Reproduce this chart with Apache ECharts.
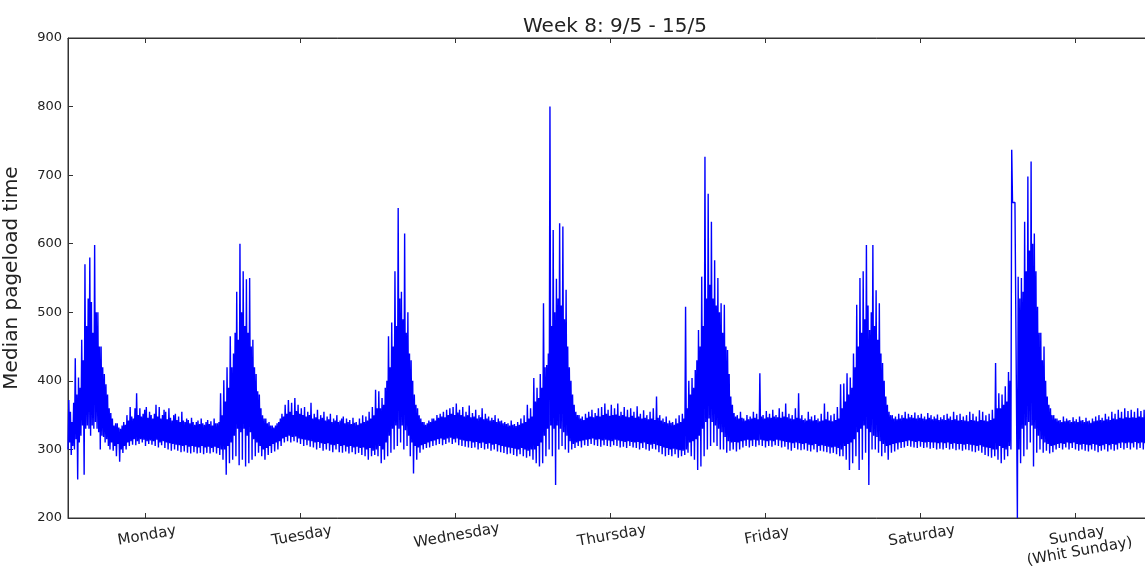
<!DOCTYPE html>
<html>
<head>
<meta charset="utf-8">
<script src="https://cdn.jsdelivr.net/npm/echarts@6/dist/echarts.min.js"></script>
<style>
  html, body { margin: 0; padding: 0; background: #fff; }
  #chart { width: 1145px; height: 574px; }
</style>
</head>
<body>
<div id="chart"></div>
<script>
// Median page load time, week 8 (9/5 - 15/5): one high/low pair per quarter hour, 96 per day.
const titleText = 'Week 8: 9/5 - 15/5';
const yAxisName = 'Median pageload time';
const dayLabels = ['Monday', 'Tuesday', 'Wednesday', 'Thursday', 'Friday', 'Saturday', 'Sunday\n(Whit Sunday)'];

const monHigh = [
  372,355,340,368,433,380,405,390,460,430,570,480,520,580,515,470,598,500,500,450,450,420,410,395,
  380,360,353,345,335,338,338,332,330,335,340,336,350,342,362,348,345,360,382,350,360,348,352,358,
  362,346,355,350,345,352,365,348,362,345,350,358,355,344,360,346,342,350,352,343,348,340,355,342,
  340,345,343,338,346,340,336,340,342,337,345,338,336,340,343,337,341,335,345,338,338,340,382,350];
const monLow = [
  300,310,292,305,300,315,256,310,320,335,263,330,335,330,320,335,330,340,330,325,300,320,318,310,
  315,305,300,310,298,305,290,308,282,300,295,305,300,310,305,312,307,315,306,312,308,315,310,314,
  305,312,308,313,307,312,305,314,303,310,306,312,302,310,300,309,298,308,300,307,298,306,296,305,
  297,306,295,304,294,305,296,304,294,303,295,305,293,303,295,304,294,302,296,304,294,302,292,300];

const tueHigh = [
  401,370,420,390,465,420,440,470,530,460,600,500,560,480,548,470,550,450,460,420,410,385,380,360,
  350,345,345,338,340,335,335,332,335,338,340,345,352,348,365,352,372,355,368,350,375,356,365,352,
  360,350,362,348,355,350,368,345,352,347,358,344,350,346,355,342,348,344,352,340,345,342,350,340,
  342,345,348,338,345,340,343,337,346,339,340,336,345,338,350,340,348,342,355,345,362,350,387,360];
const tueLow = [
  285,300,263,305,280,310,285,320,290,330,277,325,285,330,275,320,280,325,285,315,290,310,295,305,
  290,300,285,302,292,305,295,308,297,310,300,312,305,316,310,318,312,320,310,318,312,319,310,316,
  308,315,305,314,306,313,304,312,303,310,300,311,302,309,298,308,300,309,298,307,296,306,300,308,
  296,305,295,306,297,304,294,305,296,303,293,304,295,302,292,303,290,300,285,302,290,298,292,300];

const wedHigh = [
  385,360,375,365,390,400,465,420,485,450,560,480,652,520,530,490,615,470,500,440,430,400,380,365,
  360,350,345,340,340,336,338,342,340,345,345,342,350,346,352,348,355,347,358,350,360,352,362,350,
  367,354,358,350,362,348,355,350,364,347,353,348,358,345,350,347,360,344,352,345,348,342,346,343,
  350,340,345,341,342,338,340,337,338,335,342,336,337,334,340,336,345,338,350,340,365,345,360,348];
const wedLow = [
  290,305,280,300,285,310,290,320,295,330,300,335,305,330,310,335,300,328,305,320,290,310,265,305,
  285,303,295,306,300,308,302,310,303,312,305,313,306,315,308,316,306,314,308,316,310,317,308,315,
  310,316,306,314,305,313,304,312,303,312,302,310,303,311,300,309,302,310,300,308,301,309,298,307,
  300,308,297,306,296,305,295,304,293,303,294,302,292,301,290,300,293,302,290,300,288,298,290,300];

const thuHigh = [
  404,370,390,375,410,390,513,420,423,440,800,480,620,500,549,520,630,510,625,490,533,450,420,400,
  380,365,355,350,350,345,348,343,352,346,355,348,358,347,353,349,360,348,362,350,367,352,358,349,
  365,350,360,351,367,349,355,350,362,348,358,347,360,349,355,346,363,348,352,345,357,346,350,344,
  355,345,360,343,377,346,350,342,345,340,348,338,342,339,340,336,345,338,350,340,352,345,508,360];
const thuLow = [
  285,300,280,305,275,310,280,320,290,330,300,335,290,330,248,335,300,330,305,325,300,320,295,312,
  300,308,302,310,305,312,303,313,306,314,305,315,308,316,306,314,305,315,304,313,306,314,305,313,
  304,312,306,314,305,313,303,312,304,311,302,312,305,311,303,310,302,311,300,309,302,310,300,308,
  298,307,301,308,300,306,296,305,293,303,290,302,292,300,290,301,293,300,288,299,290,298,292,300];

const friHigh = [
  400,380,404,390,416,430,474,450,552,480,727,520,673,540,632,520,576,510,550,500,513,470,511,450,
  445,410,377,365,353,348,350,345,355,346,345,342,350,344,348,345,355,346,352,344,411,348,350,345,
  356,347,352,346,358,348,350,347,360,346,355,348,367,347,352,345,350,344,360,346,382,345,350,343,
  345,342,355,344,348,342,350,343,345,341,352,342,367,344,355,342,350,341,352,343,362,345,395,360];
const friLow = [
  295,310,290,312,285,315,270,320,275,330,290,340,300,345,305,340,310,335,305,330,300,325,300,318,
  295,312,298,310,300,311,297,310,300,312,303,313,305,314,303,313,305,314,304,313,306,314,305,313,
  303,312,305,313,304,312,306,314,305,313,303,312,304,311,300,310,298,309,302,310,300,309,299,308,
  300,309,298,307,297,306,300,308,296,305,298,306,297,305,296,304,294,303,295,304,293,302,290,300];

const satHigh = [
  396,370,411,380,405,390,440,420,511,450,550,470,560,490,598,510,474,500,598,480,532,460,513,440,
  426,400,377,365,355,350,350,345,348,344,352,345,350,346,355,345,352,347,350,346,354,345,350,346,
  352,345,348,344,353,346,350,344,348,345,351,343,347,344,350,343,352,345,348,343,355,344,350,342,
  352,343,348,342,350,341,355,343,352,342,348,341,357,343,355,342,350,341,352,343,358,345,426,360];
const satLow = [
  290,305,285,308,270,310,280,315,290,325,270,330,285,335,295,330,248,325,300,320,300,318,295,312,
  290,308,295,305,285,306,295,308,297,309,300,310,302,311,303,312,305,313,304,312,303,311,302,312,
  304,311,302,310,303,311,301,310,302,310,300,309,301,310,300,309,302,310,300,308,301,309,299,308,
  300,308,298,307,300,308,299,307,297,306,296,305,298,306,295,304,292,303,290,302,288,300,290,300];

const sunHigh = [
  382,360,380,365,392,370,413,400,737,660,660,660,552,520,550,530,632,560,698,590,720,600,615,560,
  508,470,470,430,450,400,377,365,360,350,350,345,345,342,343,340,348,341,345,342,343,340,347,341,
  344,340,348,342,343,340,346,341,342,339,345,341,348,342,350,343,346,342,352,344,348,343,355,345,
  352,344,358,346,355,345,360,347,356,346,358,347,355,346,360,348,356,347,358,348,355,347,357,348];
const sunLow = [
  285,305,280,302,285,300,290,305,300,660,660,660,200,300,280,330,290,335,300,340,310,335,275,330,
  295,320,300,315,295,310,298,308,294,305,296,306,300,308,302,309,300,308,303,310,300,309,302,310,
  300,308,298,307,300,308,298,307,297,306,300,308,298,307,296,305,298,306,300,308,297,306,300,308,
  298,307,300,309,302,310,300,309,302,310,300,309,303,311,300,309,302,310,300,309,302,310,300,309];

const dayHighs = [monHigh, tueHigh, wedHigh, thuHigh, friHigh, satHigh, sunHigh];
const dayLows  = [monLow, tueLow, wedLow, thuLow, friLow, satLow, sunLow];

// Hours since Monday 00:00; each quarter-hour slot draws its low, then its high.
const points = [];
dayHighs.forEach((highs, d) => {
  const lows = dayLows[d];
  highs.forEach((hi, q) => {
    const t = d * 24 + q * 0.25;
    points.push([t, lows[q]]);
    points.push([t + 0.125, hi]);
  });
});

const labelTicks = dayLabels.map((_, i) => i * 24 + 12);
const textColor = '#222';
const frameColor = '#333';
const fontFamily = '"DejaVu Sans", sans-serif';

const chart = echarts.init(document.getElementById('chart'), null, { renderer: 'canvas' });
chart.setOption({
  animation: false,
  backgroundColor: '#ffffff',
  title: {
    text: titleText,
    left: 610,
    top: 12,
    textAlign: 'center',
    textStyle: { fontFamily, fontSize: 20, fontWeight: 'normal', color: textColor }
  },
  grid: {
    left: 68, top: 38, right: -8, bottom: 56,
    containLabel: false,
    outerBoundsMode: 'none',
    show: true, borderColor: frameColor, borderWidth: 1, backgroundColor: 'transparent'
  },
  xAxis: [
    {
      type: 'value', min: 0, max: 168, position: 'bottom',
      axisLine: { show: true, lineStyle: { color: frameColor, width: 1 } },
      axisTick: { show: true, inside: true, length: 5, customValues: labelTicks, lineStyle: { color: frameColor } },
      axisLabel: {
        show: true,
        customValues: labelTicks,
        formatter: v => dayLabels[Math.round((v - 12) / 24)],
        rotate: 10,
        align: 'center',
        verticalAlign: 'top',
        margin: 10,
        fontFamily, fontSize: 15, color: textColor, lineHeight: 16
      },
      splitLine: { show: false }
    },
    {
      type: 'value', min: 0, max: 168, position: 'top',
      axisLine: { show: true, lineStyle: { color: frameColor, width: 1 } },
      axisTick: { show: true, inside: true, length: 5, customValues: labelTicks, lineStyle: { color: frameColor } },
      axisLabel: { show: false },
      splitLine: { show: false }
    }
  ],
  yAxis: {
    type: 'value', min: 200, max: 900, interval: 100,
    name: yAxisName,
    nameLocation: 'middle',
    nameRotate: 90,
    nameGap: 46,
    nameTextStyle: { fontFamily, fontSize: 20, color: textColor },
    axisLine: { show: true, lineStyle: { color: frameColor, width: 1 } },
    axisTick: { show: true, inside: true, length: 5, lineStyle: { color: frameColor } },
    axisLabel: { fontFamily, fontSize: 13, color: textColor, margin: 6 },
    splitLine: { show: false }
  },
  series: [{
    type: 'line',
    xAxisIndex: 0,
    data: points,
    showSymbol: false,
    symbol: 'none',
    sampling: 'none',
    lineStyle: { color: '#0000ff', width: 1.4 },
    emphasis: { disabled: true }
  }]
});
</script>
</body>
</html>
